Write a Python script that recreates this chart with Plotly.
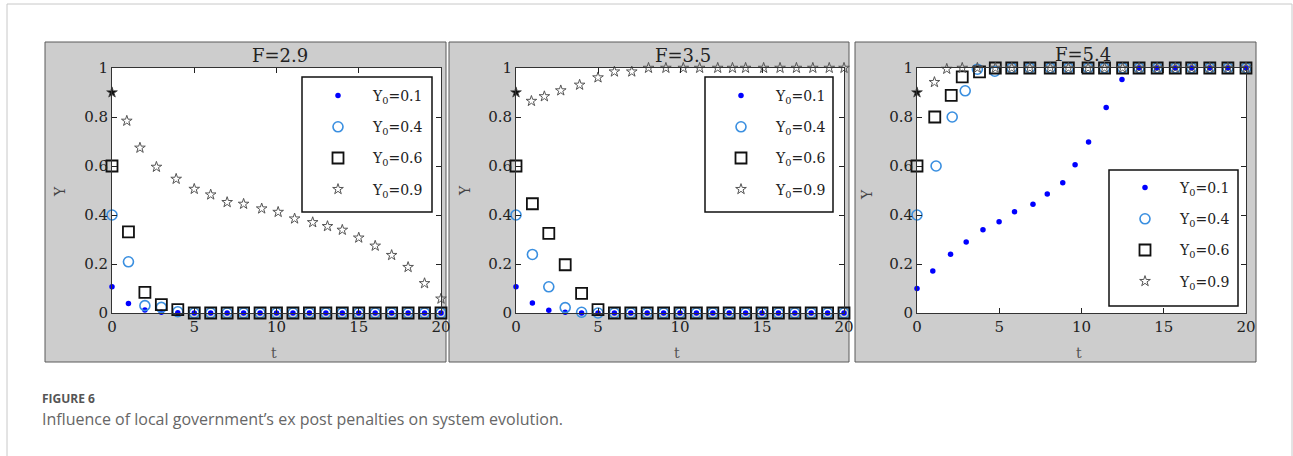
import plotly.graph_objects as go

W, H = 1293, 456

# ---------------- data ----------------
panel_titles = ["F=2.9", "F=3.5", "F=5.4"]
legend_labels = ["Y<sub>0</sub>=0.1", "Y<sub>0</sub>=0.4", "Y<sub>0</sub>=0.6", "Y<sub>0</sub>=0.9"]
x_tickvals = [0, 5, 10, 15, 20]
x_ticktext = ["0", "5", "10", "15", "20"]
y_tickvals = [0, 0.2, 0.4, 0.6, 0.8, 1]
y_ticktext = ["0", "0.2", "0.4", "0.6", "0.8", "1"]

t_int = list(range(21))

# F = 2.9
f1_t_y01 = t_int
f1_y01 = [0.107, 0.039, 0.012, 0.003, 0.001] + [0] * 16
f1_t_y04 = t_int
f1_y04 = [0.4, 0.209, 0.030, 0.023, 0.005] + [0] * 16
f1_t_y06 = t_int
f1_y06 = [0.6, 0.331, 0.084, 0.034, 0.014] + [0] * 16
f1_t_y09 = [0, 0.9, 1.7, 2.7, 3.9, 5, 6, 7, 8, 9.1, 10.1, 11.1, 12.2, 13.1, 14, 15, 16, 17, 18, 19, 20]
f1_y09 = [0.9, 0.784, 0.674, 0.596, 0.547, 0.506, 0.483, 0.452, 0.445, 0.426, 0.412,
          0.385, 0.370, 0.354, 0.339, 0.307, 0.274, 0.236, 0.187, 0.121, 0.058]

# F = 3.5
f2_t_y01 = t_int
f2_y01 = [0.107, 0.041, 0.011, 0.003, 0, 0] + [0] * 15
f2_t_y04 = t_int
f2_y04 = [0.4, 0.239, 0.107, 0.022, 0.003, 0] + [0] * 15
f2_t_y06 = t_int
f2_y06 = [0.6, 0.446, 0.325, 0.197, 0.080, 0.014] + [0] * 15
f2_t_y09 = [0, 0.94, 1.73, 2.73, 3.88, 5, 6, 7.06, 8.08, 9.14, 10.2, 11.2, 12.3, 13.2, 14,
            15.1, 16.1, 17.1, 18.1, 19.1, 20]
f2_y09 = [0.9, 0.865, 0.884, 0.908, 0.931, 0.961, 0.985, 0.985] + [1] * 13

# F = 5.4
f3_t_y01 = [0, 0.96, 2.04, 2.99, 4.01, 4.99, 5.93, 7.05, 7.92, 8.86, 9.61, 10.43, 11.5, 12.46,
            13.5, 14.56, 15.7, 16.7, 17.8, 18.9, 20]
f3_y01 = [0.1, 0.171, 0.240, 0.290, 0.340, 0.372, 0.413, 0.444, 0.486, 0.532, 0.605, 0.698,
          0.839, 0.953, 1, 1, 1, 1, 1, 1, 1]
f3_t_y04 = [0, 1.16, 2.14, 2.93, 3.67, 4.73, 5.76, 6.86, 8.1, 9.2, 10.4, 11.4, 12.5, 13.5,
            14.6, 15.7, 16.7, 17.8, 18.9, 20]
f3_y04 = [0.4, 0.6, 0.8, 0.907, 0.995, 0.987] + [1] * 14
f3_t_y06 = [0, 1.08, 2.08, 2.75, 3.8, 4.76, 5.76, 6.86, 8.1, 9.2, 10.4, 11.4, 12.5, 13.5,
            14.6, 15.7, 16.7, 17.8, 18.9, 20]
f3_y06 = [0.6, 0.8, 0.888, 0.964, 0.984, 1] + [1] * 14
f3_t_y09 = [0, 1.06, 1.81, 2.75, 3.67, 4.76, 5.76, 6.86, 8.1, 9.2, 10.4, 11.4, 12.5, 13.5,
            14.6, 15.7, 16.7, 17.8, 18.9, 20]
f3_y09 = [0.9, 0.942, 0.996, 1, 1] + [1] * 15

panels = [
    [(f1_t_y01, f1_y01), (f1_t_y04, f1_y04), (f1_t_y06, f1_y06), (f1_t_y09, f1_y09)],
    [(f2_t_y01, f2_y01), (f2_t_y04, f2_y04), (f2_t_y06, f2_y06), (f2_t_y09, f2_y09)],
    [(f3_t_y01, f3_y01), (f3_t_y04, f3_y04), (f3_t_y06, f3_y06), (f3_t_y09, f3_y09)],
]

caption_label = "FIGURE 6"
caption_text = "Influence of local government\u2019s ex post penalties on system evolution."

# ---------------- layout geometry (pixels) ----------------
plot_px = [(112, 441), (516, 844), (917, 1246)]
plot_top, plot_bot = 68, 313
box_px = [(45, 446), (449, 849), (855, 1256)]
box_top, box_bot = 42, 362
legend_box_px = [(302, 432, 77, 212), (705, 833, 77, 212), (1109, 1238, 170, 306)]
legend_anchor_px = [(303, 80), (706, 80), (1110, 172)]
title_px = [(280, 56), (683, 56), (1083, 55)]
ylab_px = [(60, 192), (465, 191), (867, 195)]
xlab_px = [(274, 353), (677, 353), (1079, 353)]

def px(x):
    return x / W

def py(y):
    return 1 - y / H

serif = "DejaVu Serif"

marker_styles = [
    dict(symbol="circle", size=5.5, color="#0000ff", line=dict(width=0)),
    dict(symbol="circle-open", size=10, color="#3a8fe0", line=dict(width=1.6, color="#3a8fe0")),
    dict(symbol="square-open", size=11, color="#111111", line=dict(width=1.8, color="#111111")),
    dict(symbol="star-open", size=8, color="#555555", line=dict(width=1, color="#555555")),
]

fig = go.Figure()
layout = {}
shapes = []
annotations = []

# outer frame
shapes.append(dict(type="rect", xref="paper", yref="paper", x0=px(7), x1=px(1292),
                   y0=-0.1, y1=py(4), line=dict(color="#c8c8c8", width=1), layer="below"))

for i in range(3):
    sfx = "" if i == 0 else str(i + 1)
    xa, ya = "x" + sfx, "y" + sfx
    leg = "legend" + sfx
    shapes.append(dict(type="rect", xref="paper", yref="paper",
                       x0=px(box_px[i][0]), x1=px(box_px[i][1]), y0=py(box_bot), y1=py(box_top),
                       fillcolor="#cdcdcd", line=dict(color="#5a5a5a", width=1), layer="below"))
    shapes.append(dict(type="rect", xref="paper", yref="paper",
                       x0=px(plot_px[i][0]), x1=px(plot_px[i][1]), y0=py(plot_bot), y1=py(plot_top),
                       fillcolor="white", line=dict(width=0), layer="below"))
    lx0, lx1, ly0, ly1 = legend_box_px[i]
    shapes.append(dict(type="rect", xref="paper", yref="paper",
                       x0=px(lx0), x1=px(lx1), y0=py(ly1), y1=py(ly0),
                       fillcolor="white", line=dict(color="#111111", width=1.5), layer="above"))
    for k, (tt, yy) in enumerate(panels[i]):
        fig.add_trace(go.Scatter(x=tt, y=yy, mode="markers", name=legend_labels[k],
                                 marker=marker_styles[k], xaxis=xa, yaxis=ya, legend=leg,
                                 legendgroup=f"p{i}s{k}", cliponaxis=False))
    st, sy = panels[i][3]
    fig.add_trace(go.Scatter(x=[st[0]], y=[sy[0]], mode="markers", showlegend=False,
                             marker=dict(symbol="star", size=7, color="#111111"),
                             xaxis=xa, yaxis=ya, cliponaxis=False, hoverinfo="skip"))

    axis_common = dict(showline=True, linecolor="#333333", linewidth=1, mirror="ticks",
                       ticks="inside", ticklen=5, tickcolor="#222222", showgrid=False,
                       zeroline=False, automargin=False,
                       tickfont=dict(family=serif, size=15, color="#222222"))
    layout["xaxis" + sfx] = dict(axis_common, range=[0, 20], domain=[px(plot_px[i][0]), px(plot_px[i][1])],
                                 tickvals=x_tickvals, ticktext=x_ticktext, anchor=ya)
    layout["yaxis" + sfx] = dict(axis_common, range=[0, 1], domain=[py(plot_bot), py(plot_top)],
                                 tickvals=y_tickvals, ticktext=y_ticktext, anchor=xa)
    layout[leg] = dict(x=px(legend_anchor_px[i][0]), y=py(legend_anchor_px[i][1]),
                       xanchor="left", yanchor="top",
                       bgcolor="rgba(0,0,0,0)", borderwidth=0,
                       font=dict(family=serif, size=14, color="#222222"),
                       itemwidth=60, traceorder="grouped", tracegroupgap=10)
    annotations.append(dict(text=panel_titles[i], x=px(title_px[i][0]), y=py(title_px[i][1]),
                            xref="paper", yref="paper", showarrow=False, xanchor="center",
                            yanchor="middle", font=dict(family=serif, size=18, color="#222222")))
    annotations.append(dict(text="Y", x=px(ylab_px[i][0]), y=py(ylab_px[i][1]), xref="paper",
                            yref="paper", showarrow=False, textangle=-90, xanchor="center",
                            yanchor="middle", font=dict(family=serif, size=14, color="#444444")))
    annotations.append(dict(text="t", x=px(xlab_px[i][0]), y=py(xlab_px[i][1]), xref="paper",
                            yref="paper", showarrow=False, xanchor="center", yanchor="middle",
                            font=dict(family=serif, size=14, color="#555555")))

annotations.append(dict(text="<b>" + caption_label + "</b>", x=px(40), y=py(398), xref="paper",
                        yref="paper", showarrow=False, xanchor="left", yanchor="middle",
                        font=dict(family="Open Sans", size=12, color="#555555")))
annotations.append(dict(text=caption_text, x=px(40), y=py(419), xref="paper", yref="paper",
                        showarrow=False, xanchor="left", yanchor="middle",
                        font=dict(family="Open Sans", size=16, color="#666666")))

fig.update_layout(autosize=True, margin=dict(l=0, r=0, t=0, b=0, autoexpand=False),
                  paper_bgcolor="white", plot_bgcolor="white",
                  shapes=shapes, annotations=annotations, **layout)

post = ("document.documentElement.style.margin='0';document.body.style.margin='0';"
        "document.documentElement.style.overflow='hidden';document.body.style.overflow='hidden';"
        "var gd=document.getElementById('{plot_id}');"
        "gd.style.width='100vw';gd.style.height='100vh';Plotly.Plots.resize(gd);")

fig.write_html("out.html", default_width="100vw", default_height="100vh",
               config={"displayModeBar": False, "responsive": True}, post_script=post)
